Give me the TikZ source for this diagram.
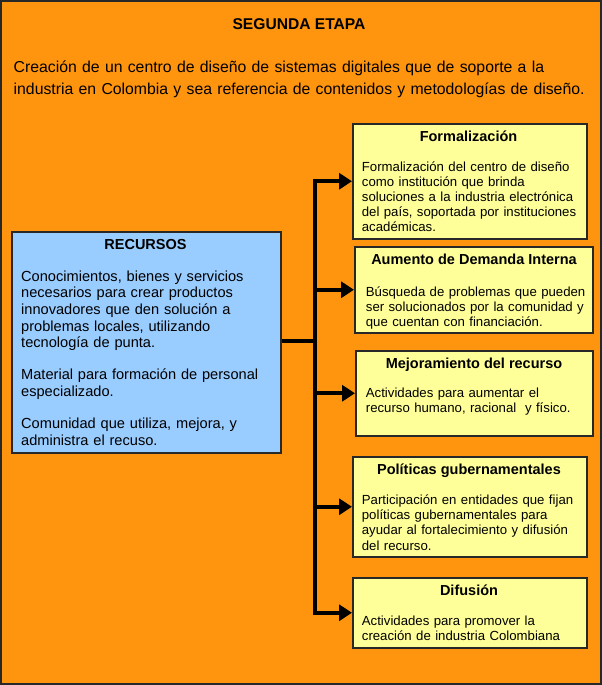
\documentclass[tikz,border=0pt]{standalone}
\usepackage{fontspec}
\setmainfont{Liberation Sans}
\usetikzlibrary{arrows.meta}
\definecolor{bgorange}{RGB}{255,149,14}
\definecolor{boxblue}{RGB}{153,204,255}
\definecolor{boxyellow}{RGB}{255,255,153}
\definecolor{edge}{RGB}{40,40,40}
\tikzset{
  box/.style={draw=edge, line width=1.5pt, inner sep=0pt, anchor=north west},
  bluebox/.style={box, fill=boxblue},
  yelbox/.style={box, fill=boxyellow},
  toptxt/.style={inner sep=0pt, font=\fontsize{15.8}{21}\selectfont, align=left, text width=590pt, anchor=base west},
  toptitle/.style={inner sep=0pt, font=\fontsize{15.6}{18}\selectfont\bfseries, anchor=base},
  btitle/.style={inner sep=0pt, font=\fontsize{14.5}{17}\selectfont\bfseries, anchor=base},
  btxt/.style={inner sep=0pt, font=\fontsize{14.6}{16.7}\selectfont, align=left, text width=260pt, anchor=base west},
  ytitle/.style={inner sep=0pt, font=\fontsize{14.5}{17}\selectfont\bfseries, anchor=base},
  ytxt/.style={inner sep=0pt, font=\fontsize{13.2}{15.2}\selectfont, align=left, text width=228pt, anchor=base west},
  conn/.style={line width=4pt, black},
  arr/.style={conn, -{Triangle[length=13pt,width=16pt]}}
}
\begin{document}
\begin{tikzpicture}[x=1pt,y=-1pt]
\useasboundingbox (0,0) rectangle (602,685);
\fill[bgorange] (0,0) rectangle (602,685);
\draw[edge, line width=2pt] (1,1) rectangle (601,684);

\node[toptitle] (ttl) at (299,30) {SEGUNDA ETAPA};
\node[toptxt] (tdesc) at (13.5,73) {Creación de un centro de diseño de sistemas digitales que de soporte a la\\industria en Colombia y sea referencia de contenidos y metodologías de diseño.};

% boxes
\node[bluebox, minimum width=269pt, minimum height=221pt] (rec) at (11,231) {};
\node[yelbox, minimum width=234pt, minimum height=115pt] (f) at (352,123) {};
\node[yelbox, minimum width=238pt, minimum height=86pt] (a) at (354,246) {};
\node[yelbox, minimum width=237pt, minimum height=85pt] (m) at (355,350) {};
\node[yelbox, minimum width=234pt, minimum height=100pt] (p) at (352,456) {};
\node[yelbox, minimum width=234pt, minimum height=70pt] (d) at (352,577) {};

% recursos text
\node[btitle] (rect) at (145.5,249) {RECURSOS};
\node[btxt] (rec1) at (21,281) {Conocimientos, bienes y servicios\\necesarios para crear productos\\innovadores que den solución a\\problemas locales, utilizando\\tecnología de punta.};
\node[btxt] (rec2) at (21,379.3) {Material para formación de personal\\especializado.};
\node[btxt] (rec3) at (21,428.3) {Comunidad que utiliza, mejora, y\\administra el recuso.};

% yellow texts
\node[ytitle] (ft) at (468.5,141) {Formalización};
\node[ytxt] (fb) at (361.7,171) {Formalización del centro de diseño\\como institución que brinda\\soluciones a la industria electrónica\\del país, soportada por instituciones\\académicas.};
\node[ytitle] (at) at (474,264.3) {Aumento de Demanda Interna};
\node[ytxt] (ab) at (365.7,296) {Búsqueda de problemas que pueden\\ser solucionados por la comunidad y\\que cuentan con financiación.};
\node[ytitle] (mt) at (474,368.3) {Mejoramiento del recurso};
\node[ytxt] (mb) at (365.7,397.7) {Actividades para aumentar el\\recurso humano, racional~ y físico.};
\node[ytitle] (pt) at (469,474.3) {Políticas gubernamentales};
\node[ytxt] (pb) at (361.7,504.4) {Participación en entidades que fijan\\políticas gubernamentales para\\ayudar al fortalecimiento y difusión\\del recurso.};
\node[ytitle] (dt) at (469,595.7) {Difusión};
\node[ytxt] (db) at (361.7,625.4) {Actividades para promover la\\creación de industria Colombiana};

% connectors
\coordinate (sp) at (315,341);
\draw[conn] (rec.east |- sp) -- (sp);
\draw[conn, line cap=rect] (sp |- f.west) -- (sp |- d.west);
\draw[arr] (sp |- f.west) -- (f.west);
\draw[arr] (sp |- a.west) -- (a.west);
\draw[arr] (sp |- m.west) -- (m.west);
\draw[arr] (sp |- p.west) -- (p.west);
\draw[arr] (sp |- d.west) -- (d.west);
\end{tikzpicture}
\end{document}
